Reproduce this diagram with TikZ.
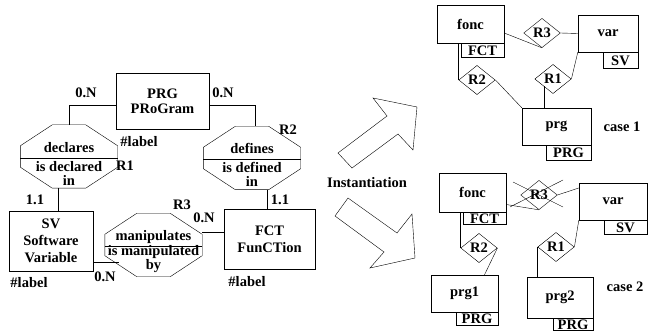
\documentclass[tikz,border=0pt]{standalone}
\usepackage{fontspec}
\setmainfont{Liberation Serif}
\usetikzlibrary{shapes.geometric}
\newcommand{\pOctagon}[1]{\draw ([xshift=32pt]#1.north west) -- ([xshift=-32pt]#1.north east) -- ([yshift=-21pt]#1.north east) -- ([yshift=21pt]#1.south east) -- ([xshift=-32pt]#1.south east) -- ([xshift=32pt]#1.south west) -- ([yshift=21pt]#1.south west) -- ([yshift=-21pt]#1.north west) -- cycle; \draw ([yshift=-1.5pt]#1.west) -- ([yshift=-1.5pt]#1.east);}

\begin{document}
\begin{tikzpicture}[x=1pt,y=-1pt,font=\bfseries\fontsize{14.5}{17}\selectfont,
  entity/.style={draw, inner sep=0pt, align=center},
  assoc/.style={inner sep=0pt, minimum width=97pt, minimum height=63pt},
  assoctext/.style={inner sep=0pt, align=center},
  obj/.style={draw, inner sep=0pt},
  tag/.style={draw, inner sep=0pt, anchor=north east, minimum height=14pt},
  rel/.style={draw, diamond, inner sep=1.5pt, aspect=1.25, fill=white},
  lbl/.style={inner sep=0pt}]
\useasboundingbox (0,0) rectangle (648,331);
\node[entity, minimum width=93pt, minimum height=56pt] (prg) at (162.5,101) {PRG\\[-2pt]PRoGram};
\node[entity, minimum width=84pt, minimum height=60pt] (sv) at (51,241) {SV\\Software\\Variable};
\node[entity, minimum width=91pt, minimum height=60pt] (fct) at (269.5,239) {FCT\\FunCTion};
\node[assoc] (decl) at (69,156.5) {};
\node[assoc] (def) at (252,158) {};
\node[assoc] (man) at (153.5,245) {};
\pOctagon{decl}
\pOctagon{def}
\pOctagon{man}
\node[assoctext] (decl text) at (69,164) {declares\\[2pt]is declared\\[-3pt]in};
\node[assoctext] (def text) at (252,165) {defines\\[2pt]is defined\\[-3pt]in};
\node[assoctext] (man text) at (153.5,252) {manipulates\\[-2pt]is manipulated\\[-3pt]by};
\draw ([yshift=-4pt]prg.west) -| (decl.north);
\draw ([yshift=-4pt]prg.east) -| ([xshift=3pt]def.north);
\draw ([xshift=-11pt]decl.south) -- ([xshift=-11pt]decl.south |- sv.north);
\draw ([xshift=15pt]def.south) -- ([xshift=15pt]def.south |- fct.north);
\draw ([yshift=13pt]man.east) -- ([yshift=13pt]man.east -| fct.west);
\draw ([xshift=14pt,yshift=-17pt]man.west) -- ([yshift=-17pt]man.west -| sv.east);
\node[lbl] (card prg decl) at (86,93) {0.N};
\node[lbl] (card prg def) at (223,93) {0.N};
\node[lbl] (card sv decl) at (35,200) {1.1};
\node[lbl] (card fct def) at (280,200) {1.1};
\node[lbl] (card fct man) at (204,218) {0.N};
\node[lbl] (card sv man) at (105,277) {0.N};
\node[lbl] (r1 name) at (125,166) {R1};
\node[lbl] (r2 name) at (288,130) {R2};
\node[lbl] (r3 name) at (182,205) {R3};
\node[lbl] (prg key) at (139,142) {\#label};
\node[lbl] (sv key) at (29,283) {\#label};
\node[lbl] (fct key) at (247,282) {\#label};
\draw (352,168) -- (338,153) -- (387,116) -- (373,98) -- (417,107) -- (413,150) -- (398,134) -- cycle;
\draw (348,198) -- (335,216) -- (384,252) -- (370,268) -- (415,258) -- (412,214) -- (397,233) -- cycle;
\node[lbl] (inst) at (367,183) {Instantiation};
\node[obj, minimum width=67pt, minimum height=38pt] (fonc1) at (470.5,24) {fonc};
\node[tag, minimum width=43pt] (fct1) at (fonc1.south east) {FCT};
\node[obj, minimum width=60pt, minimum height=37pt] (var1) at (608,33.5) {var};
\node[tag, minimum width=35pt, minimum height=16pt] (sv1) at (var1.south east) {SV};
\node[obj, minimum width=69pt, minimum height=37pt] (prg0) at (556.5,126.5) {prg};
\node[tag, minimum width=45pt, minimum height=15pt] (prg0 tag) at (prg0.south east) {PRG};
\node[rel] (r3a) at (542,33) {R3};
\node[rel] (r2a) at (477,80) {R2};
\node[rel] (r1a) at (553,79) {R1};
\draw ([yshift=-9pt]fonc1.east) -- (r3a.south);
\draw (var1.west) -- (r3a.east);
\draw (r2a.west) -- (r2a.west |- fonc1.south);
\draw (r2a.east) -- (prg0.north west);
\draw (var1.south west) -- (r1a.east);
\draw (r1a.south west) -- (r1a.south west |- prg0.north);
\node[lbl] (case one) at (622,127) {case 1};
\node[obj, minimum width=67pt, minimum height=39pt] (fonc2) at (472.5,192.5) {fonc};
\node[tag, minimum width=43pt, minimum height=12pt] (fct2) at (fonc2.south east) {FCT};
\node[obj, minimum width=68pt, minimum height=37pt] (var2) at (613,201.5) {var};
\node[tag, minimum width=43pt] (sv2) at (var2.south east) {SV};
\node[obj, minimum width=67pt, minimum height=37pt] (prg1) at (464.5,293.5) {prg1};
\node[tag, minimum width=42pt, minimum height=13pt] (prg1 tag) at (prg1.south east) {PRG};
\node[obj, minimum width=66pt, minimum height=41pt] (prg2) at (560,297.5) {prg2};
\node[tag, minimum width=40pt, minimum height=12pt] (prg2 tag) at (prg2.south east) {PRG};
\node[rel] (r3b) at (539,195) {R3};
\node[rel] (r2b) at (479,248) {R2};
\node[rel] (r1b) at (556,247) {R1};
\draw ([yshift=-12pt]fonc2.east) -- (r3b.south);
\draw (r3b.east) -- ([yshift=13.5pt]var2.west);
\draw ([shift={(-26,-13)}]r3b.center) -- ([shift={(24,12)}]r3b.center);
\draw ([shift={(-29,12)}]r3b.center) -- ([shift={(24,-15)}]r3b.center);
\draw (r2b.west) -- (r2b.west |- fonc2.south);
\draw (r2b.east) -- ([xshift=20pt]prg1.north);
\draw (var2.south west) -- (r1b.east);
\draw (r1b.west) -- (r1b.west |- prg2.north);
\node[lbl] (case two) at (625,287) {case 2};
\end{tikzpicture}
\end{document}
